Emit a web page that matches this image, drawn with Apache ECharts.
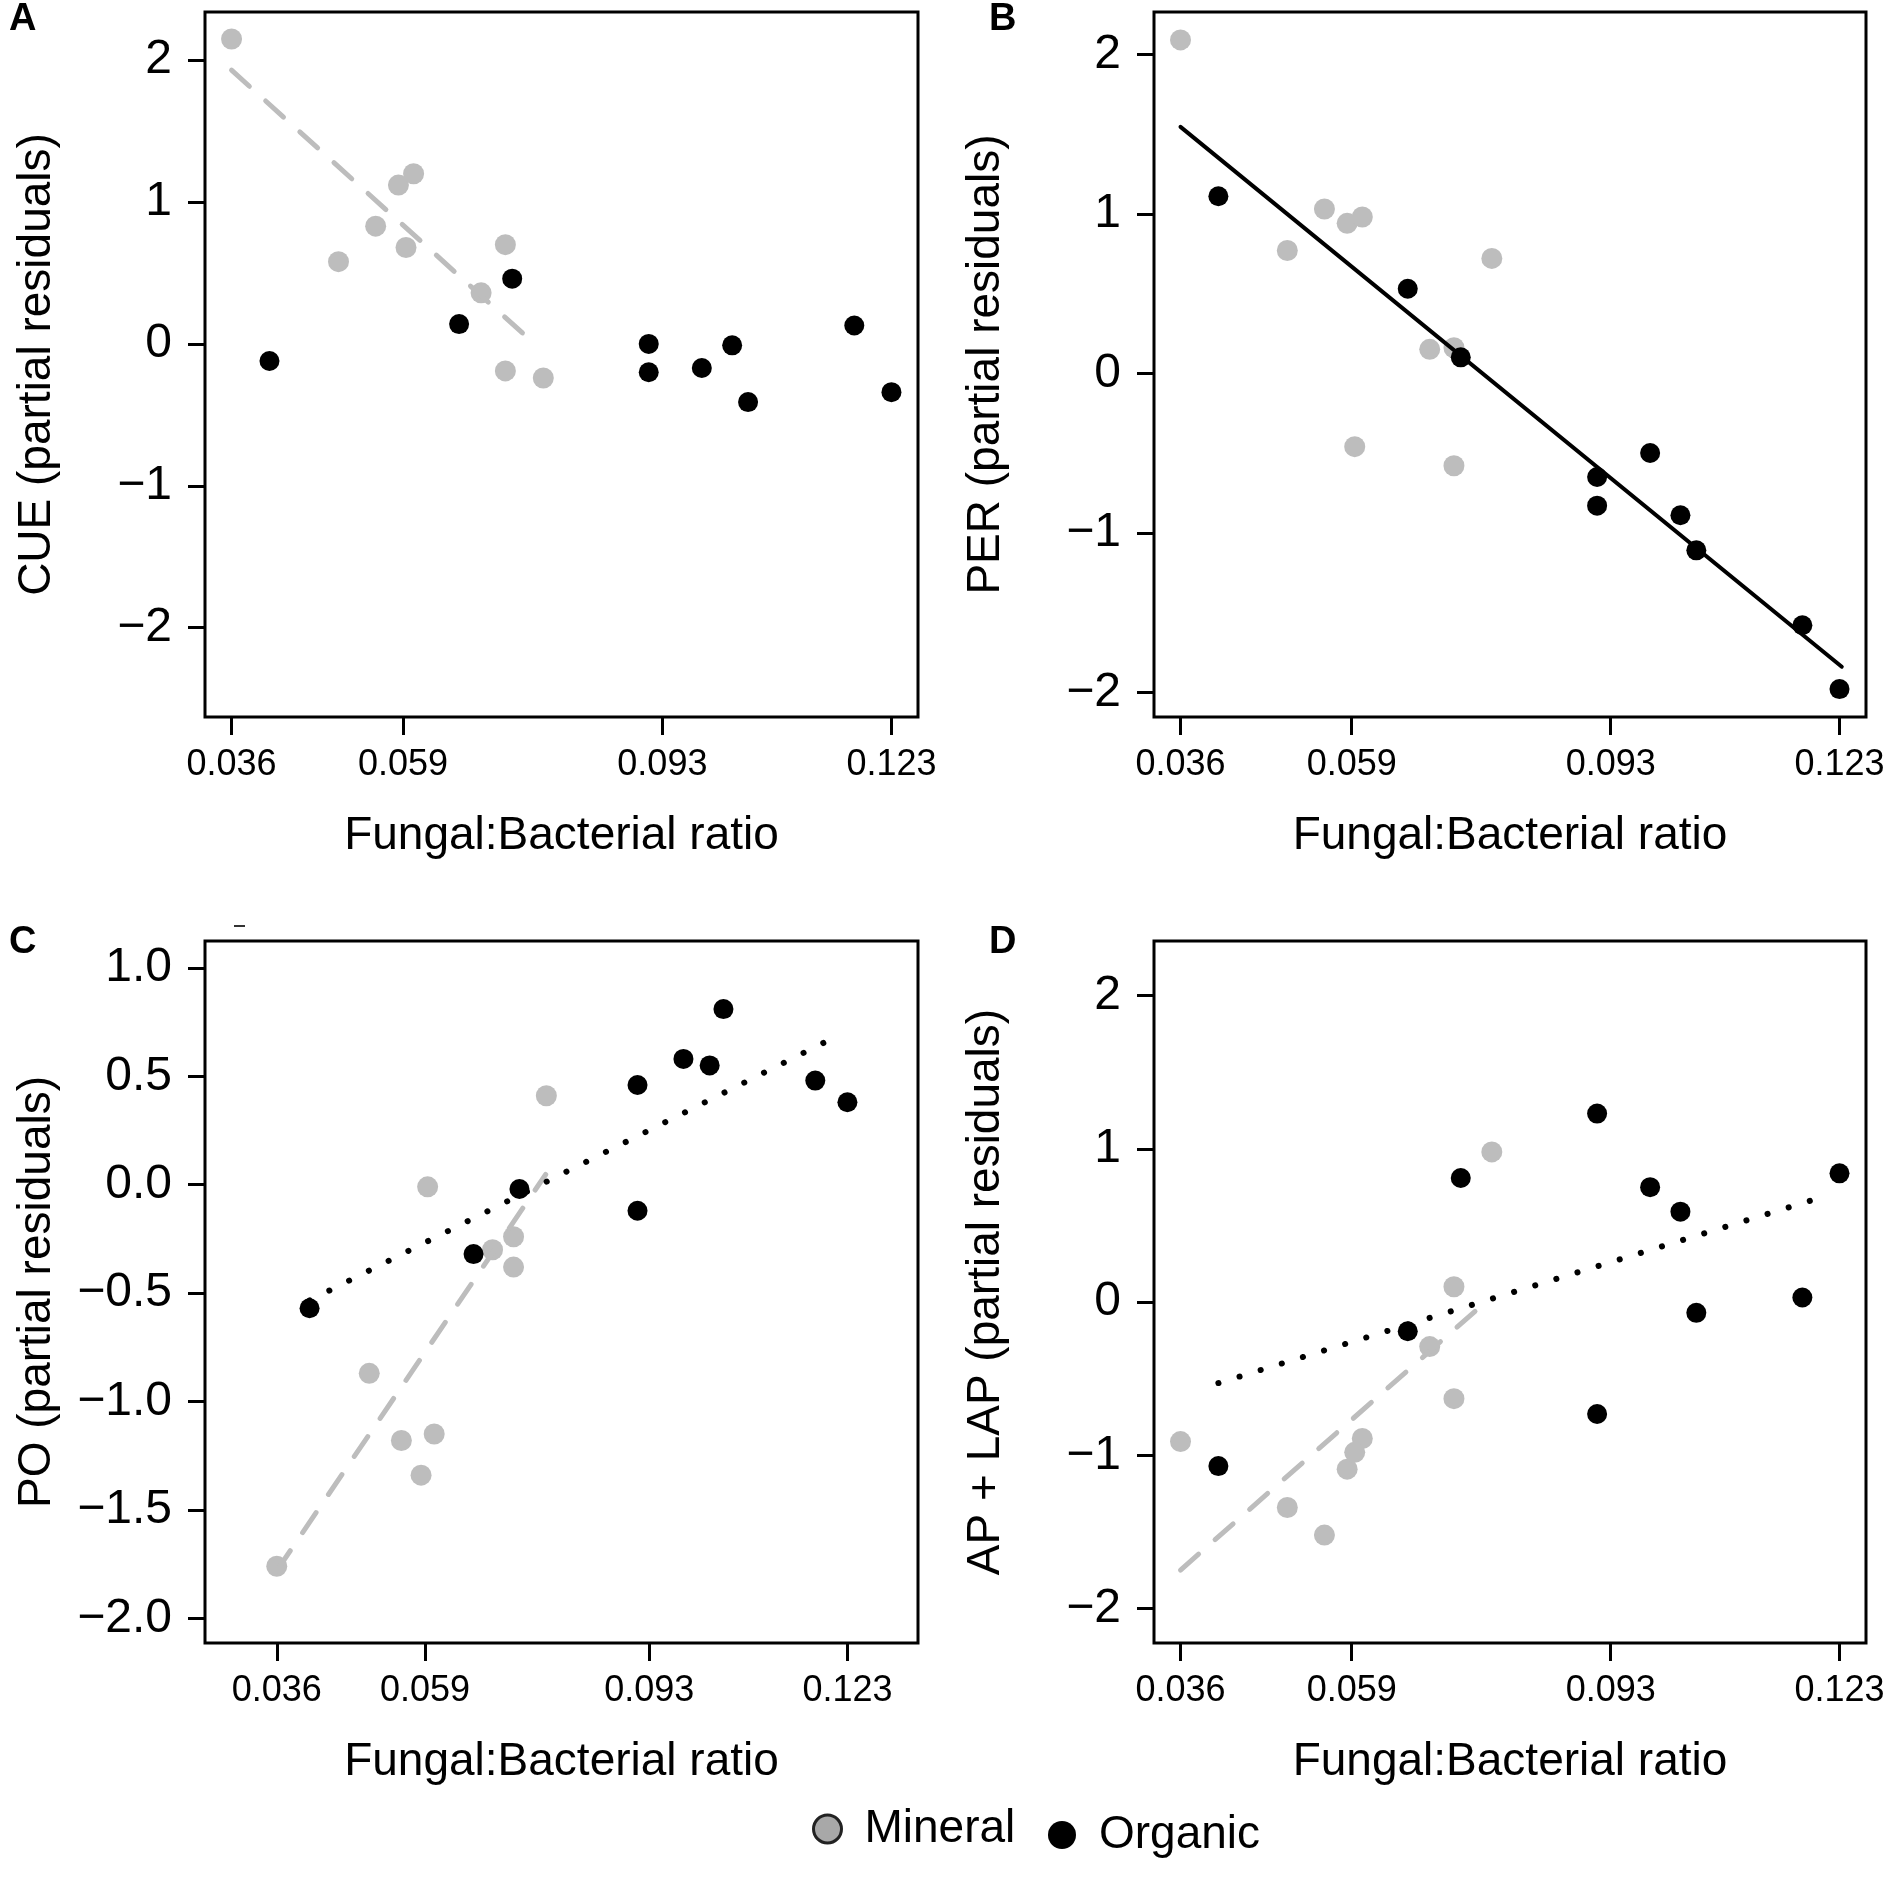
<!DOCTYPE html>
<html>
<head>
<meta charset="utf-8">
<title>Fungal:Bacterial ratio - partial residuals</title>
<script src="https://cdn.jsdelivr.net/npm/echarts@6/dist/echarts.min.js"></script>
<style>
  html, body { margin: 0; padding: 0; background: #fff; }
  #chart { width: 1892px; height: 1881px; }
</style>
</head>
<body>
<div id="chart"></div>
<script>
// F:B ratio of every sample (same samples in all four panels)
var mineralX = [0.0360, 0.0501, 0.0550, 0.0580, 0.0600, 0.0590, 0.0689, 0.0721, 0.0721, 0.0771];
var organicX = [0.0410, 0.0660, 0.0730, 0.0910, 0.0910, 0.0980, 0.1020, 0.1041, 0.1181, 0.1230];

// partial residuals
var cueMineral = [2.15, 0.58, 0.83, 1.12, 1.20, 0.68, 0.36, 0.70, -0.19, -0.24];
var cueOrganic = [-0.12, 0.14, 0.46, 0.00, -0.20, -0.17, -0.01, -0.41, 0.13, -0.34];
var perMineral = [2.09, 0.77, 1.03, 0.94, 0.98, -0.46, 0.15, 0.16, -0.58, 0.72];
var perOrganic = [1.11, 0.53, 0.10, -0.65, -0.83, -0.50, -0.89, -1.11, -1.58, -1.98];
var poMineral = [-1.76, -0.87, -1.18, -1.34, -1.15, -0.01, -0.30, -0.24, -0.38, 0.41];
var poOrganic = [-0.57, -0.32, -0.02, 0.46, -0.12, 0.58, 0.55, 0.81, 0.48, 0.38];
var apMineral = [-0.91, -1.34, -1.52, -1.09, -0.89, -0.98, -0.29, 0.10, -0.63, 0.98];
var apOrganic = [-1.07, -0.19, 0.81, 1.23, -0.73, 0.75, 0.59, -0.07, 0.03, 0.84];

// fitted lines (end points)
var cueMineralFitX = [0.036, 0.0745], cueMineralFitY = [1.93, 0.07];
var perAllFitX = [0.036, 0.1233], perAllFitY = [1.545, -1.84];
var poMineralFitX = [0.036, 0.077], poMineralFitY = [-1.78, 0.047];
var poOrganicFitX = [0.041, 0.1212], poOrganicFitY = [-0.534, 0.682];
var apMineralFitX = [0.036, 0.075], apMineralFitY = [-1.748, -0.055];
var apOrganicFitX = [0.041, 0.1212], apOrganicFitY = [-0.528, 0.693];

// ticks
var xTickVals = [0.036, 0.0586, 0.0928, 0.123];
var xTickLabels = ['0.036', '0.059', '0.093', '0.123'];
var yTicksInt = [-2, -1, 0, 1, 2];
var yTicksPO = [-2.0, -1.5, -1.0, -0.5, 0.0, 0.5, 1.0];

var yNames = ['CUE (partial residuals)', 'PER (partial residuals)', 'PO (partial residuals)', 'AP + LAP (partial residuals)'];
var letters = ['A', 'B', 'C', 'D'];

var FONT = '"Liberation Sans", Arial, Helvetica, sans-serif';
var GRAY = '#bdbdbd';

function pairs(xs, ys) {
    return xs.map(function (x, i) { return [x, ys[i]]; });
}

var grids = [
    { left: 205, top: 12, width: 713, height: 705 },
    { left: 1154, top: 12, width: 712, height: 705 },
    { left: 205, top: 941, width: 713, height: 702 },
    { left: 1154, top: 941, width: 712, height: 702 }
];
var xRanges = [[0.0325, 0.1265], [0.0325, 0.1265], [0.02506, 0.13376], [0.0325, 0.1265]];
var yRanges = [[-2.63, 2.34], [-2.155, 2.265], [-2.114, 1.124], [-2.224, 2.356]];
var yTicks = [yTicksInt, yTicksInt, yTicksPO, yTicksInt];

var mineralData = [cueMineral, perMineral, poMineral, apMineral];
var organicData = [cueOrganic, perOrganic, poOrganic, apOrganic];

var option = {
    animation: false,
    backgroundColor: '#fff',
    title: letters.map(function (l, i) {
        return {
            text: l,
            left: i % 2 === 0 ? 9 : 989,
            top: i < 2 ? 1 : 924,
            padding: 0,
            textStyle: { fontFamily: FONT, fontWeight: 'bold', fontSize: 38, color: '#000' }
        };
    }),
    grid: grids.map(function (g) {
        return Object.assign({ show: true, borderColor: '#000', borderWidth: 3, backgroundColor: 'transparent' }, g);
    }),
    xAxis: grids.map(function (g, i) {
        return {
            gridIndex: i,
            type: 'value',
            min: xRanges[i][0],
            max: xRanges[i][1],
            axisLine: { show: false, onZero: false },
            splitLine: { show: false },
            axisTick: { show: true, inside: false, length: 18, customValues: xTickVals, lineStyle: { color: '#000', width: 3 } },
            axisLabel: {
                customValues: xTickVals,
                formatter: function (v) {
                    var k = xTickVals.indexOf(v);
                    return k >= 0 ? xTickLabels[k] : v.toFixed(3);
                },
                fontFamily: FONT, fontSize: 36, color: '#000', margin: 30
            },
            name: 'Fungal:Bacterial ratio',
            nameLocation: 'middle',
            nameGap: 96,
            nameTextStyle: { fontFamily: FONT, fontSize: 46, color: '#000' }
        };
    }),
    yAxis: grids.map(function (g, i) {
        return {
            gridIndex: i,
            type: 'value',
            min: yRanges[i][0],
            max: yRanges[i][1],
            axisLine: { show: false, onZero: false },
            splitLine: { show: false },
            axisTick: { show: true, inside: false, length: 17, customValues: yTicks[i], lineStyle: { color: '#000', width: 3 } },
            axisLabel: {
                customValues: yTicks[i],
                formatter: function (v) {
                    var s = i === 2 ? v.toFixed(1) : String(Math.round(v));
                    if (s === '-0.0') s = '0.0';
                    return s.replace('-', '\u2212');
                },
                fontFamily: FONT, fontSize: 48, color: '#000', margin: 33
            },
            name: yNames[i],
            nameLocation: 'middle',
            nameGap: 145,
            nameTextStyle: { fontFamily: FONT, fontSize: 46, color: '#000' }
        };
    }),
    legend: [
        {
            left: 812, top: 1806, padding: 0,
            itemWidth: 28, itemHeight: 28,
            textStyle: { fontFamily: FONT, fontSize: 46, color: '#000', padding: [0, 0, 0, 18] },
            data: [{ name: 'Mineral', icon: 'circle', itemStyle: { color: '#a8a8a8', borderColor: '#222', borderWidth: 3, opacity: 1 } }]
        },
        {
            left: 1048, top: 1812, padding: 0,
            itemWidth: 28, itemHeight: 28,
            textStyle: { fontFamily: FONT, fontSize: 46, color: '#000', padding: [0, 0, 0, 18] },
            data: [{ name: 'Organic', icon: 'circle', itemStyle: { color: '#000', opacity: 1 } }]
        }
    ],
    graphic: [
        { type: 'line', shape: { x1: 234, y1: 926, x2: 245, y2: 926 }, style: { stroke: '#333', lineWidth: 2 } }
    ],
    series: []
};

for (var i = 0; i < 4; i++) {
    option.series.push({
        name: 'Mineral', type: 'scatter', xAxisIndex: i, yAxisIndex: i,
        symbol: 'circle', symbolSize: 21,
        itemStyle: { color: GRAY, opacity: 1 },
        data: pairs(mineralX, mineralData[i])
    });
    option.series.push({
        name: 'Organic', type: 'scatter', xAxisIndex: i, yAxisIndex: i,
        symbol: 'circle', symbolSize: 20,
        itemStyle: { color: '#000', opacity: 1 },
        data: pairs(organicX, organicData[i])
    });
}

function fitLine(idx, xs, ys, color, type) {
    var dash = type === 'dashed' ? [24, 22] : (type === 'dotted' ? [0.1, 22] : 'solid');
    return {
        name: 'fit', type: 'line', xAxisIndex: idx, yAxisIndex: idx,
        showSymbol: false, silent: true,
        lineStyle: { color: color, width: type === 'dotted' ? 6 : (type === 'dashed' ? 5 : 4), type: dash, cap: 'round' },
        data: pairs(xs, ys)
    };
}

option.series.push(fitLine(0, cueMineralFitX, cueMineralFitY, GRAY, 'dashed'));
option.series.push(fitLine(1, perAllFitX, perAllFitY, '#000', 'solid'));
option.series.push(fitLine(2, poMineralFitX, poMineralFitY, GRAY, 'dashed'));
option.series.push(fitLine(2, poOrganicFitX, poOrganicFitY, '#000', 'dotted'));
option.series.push(fitLine(3, apMineralFitX, apMineralFitY, GRAY, 'dashed'));
option.series.push(fitLine(3, apOrganicFitX, apOrganicFitY, '#000', 'dotted'));

var chart = echarts.init(document.getElementById('chart'));
chart.setOption(option);
</script>
</body>
</html>
